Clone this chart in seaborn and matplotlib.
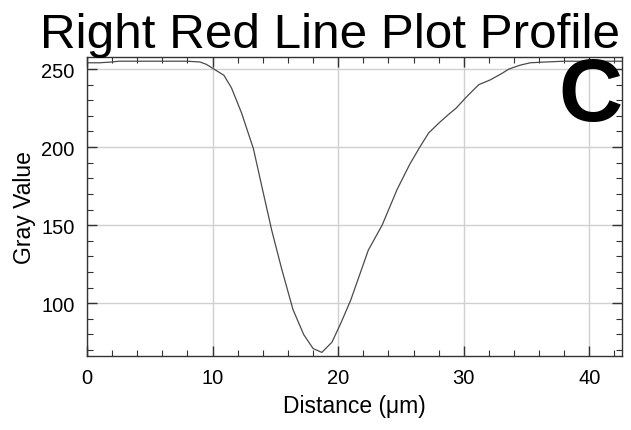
import matplotlib
matplotlib.use("Agg")
import matplotlib.pyplot as plt
import seaborn as sns
import pandas as pd
from matplotlib.ticker import MultipleLocator

distance = [0, 1, 2, 2.5, 4, 5, 6, 7, 8, 9, 9.5, 10, 10.9, 11.5, 12.3, 13.25,
            14.0, 14.7, 15.5, 16.4, 17.25, 18.0, 18.7, 19.5, 20.2, 21.0, 21.7,
            22.4, 23.5, 24.7, 25.7, 26.5, 27.2, 28.1, 28.8, 29.4, 30.2, 31.2,
            32.1, 33.0, 33.6, 34.5, 35.3, 36.5, 38, 40, 42.6]
gray = [254, 254, 254.5, 255, 255, 255, 255, 255, 255, 254.5, 253, 250.5, 246,
        238, 222, 199, 172, 147, 122, 96, 80, 71, 68.5, 75, 87, 102, 118, 134,
        150, 173, 189, 200, 209, 216, 221, 225, 232, 240, 243, 247, 250, 252.5,
        254, 254.5, 255, 255, 255]
x_ticks = [0, 10, 20, 30, 40]
y_ticks = [100, 150, 200, 250]

sns.set_theme(style="ticks")
plt.rcParams["font.family"] = ["Liberation Sans", "DejaVu Sans"]

df = pd.DataFrame({"Distance": distance, "Gray": gray})

fig = plt.figure(figsize=(6.31, 4.31), dpi=100)
ax = fig.add_axes([87/631, 1-357/431, (622-87)/631, (357-58)/431])
sns.lineplot(data=df, x="Distance", y="Gray", ax=ax, color="#4a4a4a", linewidth=0.9)

ax.set_xlim(0, 42.6)
ax.set_ylim(66.2, 257.7)
ax.set_xticks(x_ticks)
ax.set_yticks(y_ticks)
ax.xaxis.set_minor_locator(MultipleLocator(2))
ax.yaxis.set_minor_locator(MultipleLocator(10))
ax.tick_params(which="both", direction="in", top=True, right=True, color="#333333")
ax.tick_params(which="major", length=7, width=1, labelsize=14.5, pad=9, labelcolor="black")
ax.tick_params(which="minor", length=4, width=0.8)
ax.grid(True, which="major", color="#d0d0d0", linewidth=1)
for s in ax.spines.values():
    s.set_color("#333333")
    s.set_linewidth(1)
ax.set_xlabel("Distance (μm)", fontsize=16.5, labelpad=5, color="black")
ax.set_ylabel("Gray Value", fontsize=16.5, labelpad=4, color="black")

fig.text(330/631, 1-48/431, "Right Red Line Plot Profile", fontsize=35.6,
         ha="center", va="baseline", color="black")
fig.text(623/631, 1-98/431, "C", fontsize=64, fontweight="bold",
         ha="right", va="center", color="black")

fig.savefig("out.png", dpi=100)
